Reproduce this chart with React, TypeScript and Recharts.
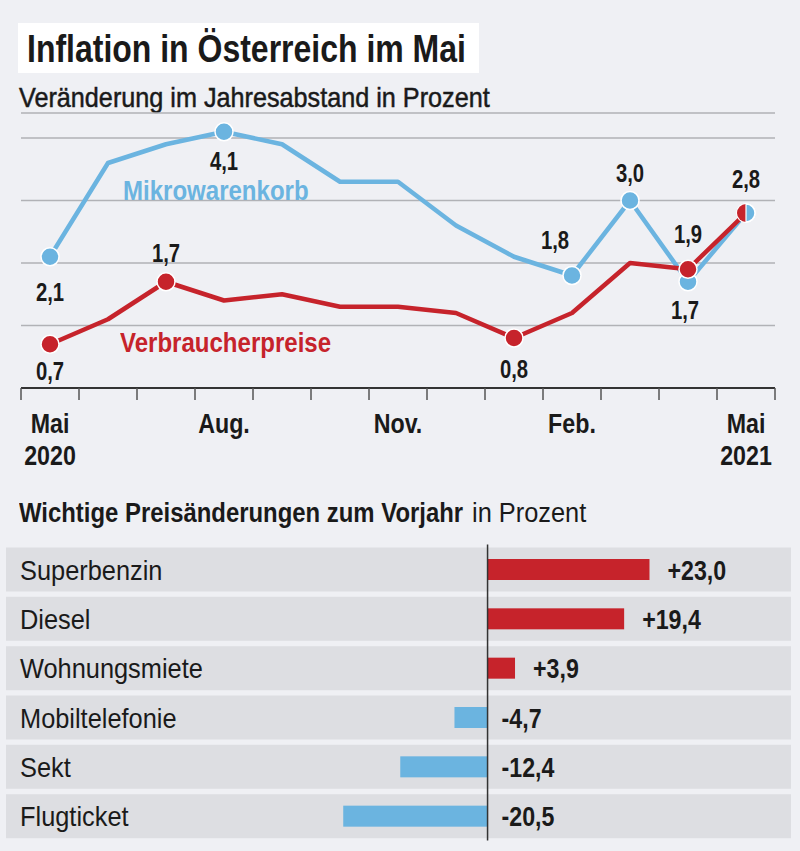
import React from 'react'
import {
  LineChart,
  Line,
  XAxis,
  YAxis,
  CartesianGrid,
  LabelList,
  BarChart,
  Bar,
  Cell,
  ReferenceLine,
} from 'recharts'

// no condensed face installed, so Liberation Sans gets squeezed horizontally
const FONT = "'Liberation Sans', Arial, sans-serif"
const BG = '#eff0f4'
const BLUE = '#6bb4e0'
const RED = '#c6232b'
const ROW = '#dddee2'
const INK = '#1a1a1a'

// line chart data
const months = ['Mai 2020', 'Jun', 'Jul', 'Aug', 'Sep', 'Okt', 'Nov', 'Dez', 'Jan', 'Feb', 'Mär', 'Apr', 'Mai 2021']
const monthTicks = ['Mai|2020', '', '', 'Aug.', '', '', 'Nov.', '', '', 'Feb.', '', '', 'Mai|2021']
const mikrowarenkorb = [2.1, 3.6, 3.9, 4.1, 3.9, 3.3, 3.3, 2.6, 2.1, 1.8, 3.0, 1.7, 2.8]
const verbraucherpreise = [0.7, 1.1, 1.7, 1.4, 1.5, 1.3, 1.3, 1.2, 0.8, 1.2, 2.0, 1.9, 2.8]
const yTicks = [0, 1, 2, 3, 4]

// bar chart data
const categories = ['Superbenzin', 'Diesel', 'Wohnungsmiete', 'Mobiltelefonie', 'Sekt', 'Flugticket']
const changes = [23.0, 19.4, 3.9, -4.7, -12.4, -20.5]

// which points get a marker + label, and where the label sits (dx, dy of text centre)
const blueLabelAt: Record<number, [number, number]> = {
  0: [0, 35],
  3: [0, 29],
  9: [-17, -36],
  10: [0, -28],
  11: [-3, 28],
  12: [0, -35],
}
const redLabelAt: Record<number, [number, number]> = {
  0: [0, 26],
  2: [0, -29],
  8: [0, 30],
  11: [0, -36],
}

const lineData = months.map((m, i) => ({
  month: m,
  blue: mikrowarenkorb[i],
  red: verbraucherpreise[i],
}))
const barData = categories.map((c, i) => ({ name: c, value: changes[i] }))

const fmt = (v: number) => v.toFixed(1).replace('.', ',')
const fmtSigned = (v: number) => (v > 0 ? '+' : '') + fmt(v)

const CH_LEFT = 21
const CH_RIGHT = 25
const HALF = (800 - CH_LEFT - CH_RIGHT) / months.length / 2
const DOT_R = 9
const BAR_H = 21

// svg text squeezed to a narrow look
const SText = ({ x, y, size, k, bold, anchor = 'start', fill = INK, children }: any) => (
  <g transform={`translate(${x} ${y}) scale(${k} 1)`}>
    <text
      x={0}
      y={0}
      textAnchor={anchor}
      fontFamily={FONT}
      fontSize={size}
      fontWeight={bold ? 'bold' : 'normal'}
      fill={fill}
    >
      {children}
    </text>
  </g>
)

const HText = ({ left, top, size, k, bold, color = INK, style, children }: any) => (
  <div
    style={{
      position: 'absolute',
      left,
      top,
      fontSize: size,
      lineHeight: `${size}px`,
      fontWeight: bold ? 'bold' : 'normal',
      color,
      whiteSpace: 'nowrap',
      transform: `scaleX(${k})`,
      transformOrigin: 'left top',
      ...style,
    }}
  >
    {children}
  </div>
)

const MonthTick = (props: any) => {
  const { x, y, payload } = props
  const i = payload.index
  const [l1, l2] = (monthTicks[i] || '').split('|')
  const tl = { stroke: '#555', strokeWidth: 1.5 }
  return (
    <g>
      <line x1={x - HALF} x2={x - HALF} y1={y} y2={y + 12} {...tl} />
      {i === months.length - 1 && <line x1={x + HALF} x2={x + HALF} y1={y} y2={y + 12} {...tl} />}
      {l1 && (
        <SText x={x} y={y + 45} size={28} k={0.83} bold anchor="middle">
          {l1}
        </SText>
      )}
      {l2 && (
        <SText x={x} y={y + 77} size={28} k={0.83} bold anchor="middle">
          {l2}
        </SText>
      )}
    </g>
  )
}

const makeDot = (color: string, marked: Record<number, any>, splitLast = false) => (props: any) => {
  const { cx, cy, index } = props
  if (splitLast && index === months.length - 1) {
    return (
      <g key={`s${index}`}>
        <circle cx={cx} cy={cy} r={DOT_R} fill={BLUE} stroke="#fff" strokeWidth={1.5} />
        <path d={`M${cx},${cy - DOT_R} A${DOT_R},${DOT_R} 0 0 0 ${cx},${cy + DOT_R} Z`} fill={RED} />
        <line x1={cx} x2={cx} y1={cy - DOT_R} y2={cy + DOT_R} stroke="#fff" strokeWidth={1.2} />
      </g>
    )
  }
  if (!(index in marked)) return <g key={`n${index}`} />
  return <circle key={`d${index}`} cx={cx} cy={cy} r={DOT_R} fill={color} stroke="#fff" strokeWidth={1.5} />
}

const makeLabel = (placement: Record<number, [number, number]>) => (props: any) => {
  const { x, y, value, index } = props
  const p = placement[index]
  if (!p) return null
  return (
    <SText key={`l${index}`} x={x + p[0]} y={y + p[1] + 9.5} size={26} k={0.78} bold anchor="middle">
      {fmt(value)}
    </SText>
  )
}

const BarShape = (props: any) => {
  const { x, y, width, height, fill } = props
  const x0 = Math.min(x, x + width)
  const w = Math.abs(width)
  return <rect x={x0} y={y + (height - BAR_H) / 2} width={w} height={BAR_H} fill={fill} />
}

const NameLabel = (props: any) => {
  const { y, height, value } = props
  return (
    <SText x={20} y={y + height / 2 + 10} size={27} k={0.94}>
      {value}
    </SText>
  )
}

const ValueLabel = (props: any) => {
  const { x, y, width, height, value } = props
  const hi = Math.max(x, x + width)
  const tx = value >= 0 ? hi + 18 : hi + 14
  return (
    <SText x={tx} y={y + height / 2 + 10} size={27} k={0.86} bold>
      {fmtSigned(value)}
    </SText>
  )
}

export default function App() {
  return (
    <div
      style={{
        position: 'relative',
        width: 800,
        height: 851,
        background: BG,
        overflow: 'hidden',
        fontFamily: FONT,
        color: INK,
      }}
    >
      <style>{'body{margin:0}'}</style>

      <div
        style={{
          position: 'absolute',
          left: 18,
          top: 23,
          width: 461,
          height: 50,
          background: '#fff',
        }}
      />
      <HText left={27} top={29} size={39} k={0.82} bold>
        Inflation in Österreich im Mai
      </HText>
      <HText left={19} top={83.5} size={28} k={0.9} style={{ WebkitTextStroke: `0.5px ${INK}` }}>
        Veränderung im Jahresabstand in Prozent
      </HText>

      <div style={{ position: 'absolute', left: 0, top: 0 }}>
        <LineChart
          width={800}
          height={480}
          data={lineData}
          margin={{ top: 113, right: CH_RIGHT, bottom: 22, left: CH_LEFT }}
        >
          <CartesianGrid vertical={false} stroke="#b1b2b6" strokeWidth={1.5} />
          <YAxis hide domain={[0, 4.4]} ticks={yTicks} />
          <XAxis
            dataKey="month"
            interval={0}
            height={70}
            tickLine={false}
            tickSize={0}
            tickMargin={0}
            padding={{ left: HALF, right: HALF }}
            axisLine={{ stroke: '#333', strokeWidth: 2 }}
            tick={<MonthTick />}
          />
          <Line
            type="linear"
            dataKey="blue"
            stroke={BLUE}
            strokeWidth={4.5}
            strokeLinejoin="round"
            dot={makeDot(BLUE, blueLabelAt)}
            activeDot={false}
            isAnimationActive={false}
          >
            <LabelList dataKey="blue" content={makeLabel(blueLabelAt)} />
          </Line>
          <Line
            type="linear"
            dataKey="red"
            stroke={RED}
            strokeWidth={4.5}
            strokeLinejoin="round"
            dot={makeDot(RED, redLabelAt, true)}
            activeDot={false}
            isAnimationActive={false}
          >
            <LabelList dataKey="red" content={makeLabel(redLabelAt)} />
          </Line>
        </LineChart>
      </div>

      <HText left={123} top={178} size={27} k={0.89} bold color={BLUE}>
        Mikrowarenkorb
      </HText>
      <HText left={120} top={330} size={27} k={0.89} bold color={RED}>
        Verbraucherpreise
      </HText>

      <HText left={19} top={500} size={27} k={0.885} bold>
        Wichtige Preisänderungen zum Vorjahr
      </HText>
      <HText left={472} top={500} size={27} k={0.94}>
        in Prozent
      </HText>

      <div style={{ position: 'absolute', left: 0, top: 490 }}>
        <BarChart
          width={800}
          height={361}
          layout="vertical"
          data={barData}
          margin={{ top: 54.5, right: 9, bottom: 10.5, left: 6 }}
        >
          <XAxis type="number" hide domain={[-68.4, 43.1]} />
          <YAxis type="category" dataKey="name" hide />
          <Bar
            dataKey="value"
            barSize={44}
            background={{ fill: ROW }}
            shape={<BarShape />}
            isAnimationActive={false}
          >
            {barData.map((d, i) => (
              <Cell key={i} fill={d.value >= 0 ? RED : BLUE} />
            ))}
            <LabelList dataKey="name" content={<NameLabel />} />
            <LabelList dataKey="value" content={<ValueLabel />} />
          </Bar>
          <ReferenceLine x={0} stroke="#333" strokeWidth={1.5} />
        </BarChart>
      </div>
    </div>
  )
}
